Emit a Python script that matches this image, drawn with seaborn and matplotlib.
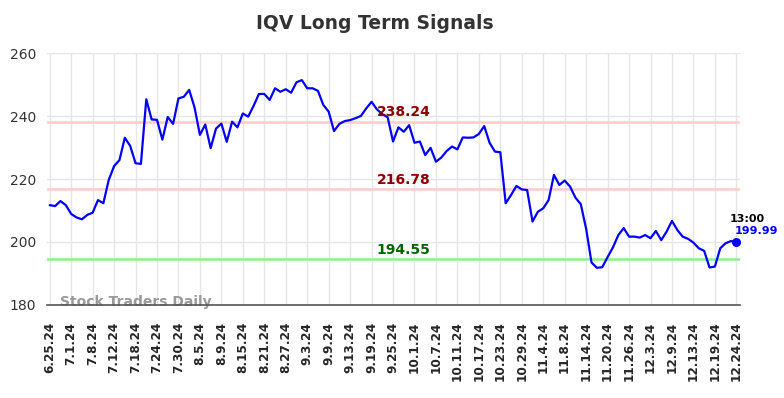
import matplotlib
matplotlib.use("Agg")
import matplotlib.pyplot as plt
import seaborn as sns
import pandas as pd
import numpy as np

title = "IQV Long Term Signals"
tick_labels = ["6.25.24", "7.1.24", "7.8.24", "7.12.24", "7.18.24", "7.24.24", "7.30.24",
               "8.5.24", "8.9.24", "8.15.24", "8.21.24", "8.27.24", "9.3.24", "9.9.24",
               "9.13.24", "9.19.24", "9.25.24", "10.1.24", "10.7.24", "10.11.24", "10.17.24",
               "10.23.24", "10.29.24", "11.4.24", "11.8.24", "11.14.24", "11.20.24",
               "11.26.24", "12.3.24", "12.9.24", "12.13.24", "12.19.24", "12.24.24"]
prices = [211.7, 211.4, 213.0, 211.7, 208.9, 207.8, 207.2, 208.6, 209.3, 213.3,
          212.3, 219.7, 224.1, 226.0, 233.1, 230.5, 225.0, 224.8, 245.3, 238.9,
          238.8, 232.5, 239.7, 237.5, 245.6, 246.1, 248.3, 242.7, 234.0, 237.3,
          229.8, 236.0, 237.6, 231.8, 238.2, 236.4, 240.8, 239.8, 243.2, 247.0,
          247.0, 245.1, 248.8, 247.7, 248.5, 247.4, 250.7, 251.4, 248.8, 248.8,
          248.0, 243.5, 241.4, 235.2, 237.5, 238.4, 238.7, 239.3, 240.0, 242.4,
          244.5, 242.1, 240.6, 239.6, 231.9, 236.4, 235.0, 237.1, 231.5, 231.9,
          227.6, 229.9, 225.5, 226.8, 228.9, 230.3, 229.4, 233.2, 233.1, 233.2,
          234.3, 236.8, 231.5, 228.7, 228.5, 212.3, 214.9, 217.8, 216.7, 216.5,
          206.5, 209.6, 210.7, 213.3, 221.3, 218.1, 219.5, 217.6, 214.1, 212.0,
          204.2, 193.5, 191.8, 192.0, 195.2, 198.3, 202.2, 204.4, 201.7, 201.7,
          201.4, 202.2, 201.2, 203.5, 200.6, 203.3, 206.7, 203.8, 201.7, 201.0,
          199.8, 198.0, 197.2, 191.9, 192.2, 198.0, 199.6, 200.3, 199.99]
resistance_high = 238.24
resistance_low = 216.78
support = 194.55
last_time = "13:00"
last_value_label = "199.99"
watermark = "Stock Traders Daily"

df = pd.DataFrame({"idx": np.arange(len(prices)), "price": prices})

sns.set_theme(style="whitegrid")
plt.rcParams['font.family'] = ['DejaVu Sans']

fig = plt.figure(figsize=(7.84, 3.98), dpi=100)
ax = fig.add_axes([0.06, 0.2337, 0.884, 0.6331])

ax.grid(True, color="#e6e6e6", linewidth=1.0)
ax.axhline(resistance_high, color="#ffcccc", linewidth=1.8, zorder=1)
ax.axhline(resistance_low, color="#ffcccc", linewidth=1.8, zorder=1)
ax.axhline(support, color="#90ee90", linewidth=1.8, zorder=1)

sns.lineplot(data=df, x="idx", y="price", ax=ax, color="#0000ff", linewidth=1.6, zorder=3)
ax.scatter([df["idx"].iloc[-1]], [df["price"].iloc[-1]], color="#0000ff", s=30, zorder=4)

mid = 66
ax.text(mid, resistance_high + 0.8, f"{resistance_high:.2f}", color="#8b0000",
        fontsize=10, fontweight="bold", ha="center", va="bottom", zorder=5)
ax.text(mid, resistance_low + 0.8, f"{resistance_low:.2f}", color="#8b0000",
        fontsize=10, fontweight="bold", ha="center", va="bottom", zorder=5)
ax.text(mid, support + 0.8, f"{support:.2f}", color="#006400",
        fontsize=10, fontweight="bold", ha="center", va="bottom", zorder=5)

last_i = df["idx"].iloc[-1]
ax.text(last_i + 2.0, prices[-1] + 7.3, last_time, color="black", fontsize=8,
        fontweight="bold", ha="center", va="center")
ax.text(last_i + 3.8, prices[-1] + 3.4, last_value_label, color="#0000ff", fontsize=8,
        fontweight="bold", ha="center", va="center")

ax.text(0.019, 0.012, watermark, transform=ax.transAxes, color="#999999", fontsize=10,
        fontweight="bold", ha="left", va="center", zorder=2)

ax.set_xlim(-0.5, 128.7)
ax.set_ylim(180, 260)
ax.set_yticks([180, 200, 220, 240, 260])
ax.set_xticks(np.arange(0, 129, 4))
ax.set_xticklabels(tick_labels, rotation=90, fontsize=8.7, fontweight="bold")
ax.tick_params(axis="y", labelsize=10, colors="#333333", length=0, pad=8)
ax.tick_params(axis="x", length=0, pad=12)
ax.set_xlabel("")
ax.set_ylabel("")
for s in ["left", "right", "top"]:
    ax.spines[s].set_visible(False)
ax.spines["bottom"].set_visible(True)
ax.spines["bottom"].set_color("#555555")
ax.spines["bottom"].set_linewidth(1.2)

fig.suptitle(title, x=0.478, y=0.965, fontsize=13.5, fontweight="bold", color="#333333")

fig.savefig("out.png", dpi=100)
